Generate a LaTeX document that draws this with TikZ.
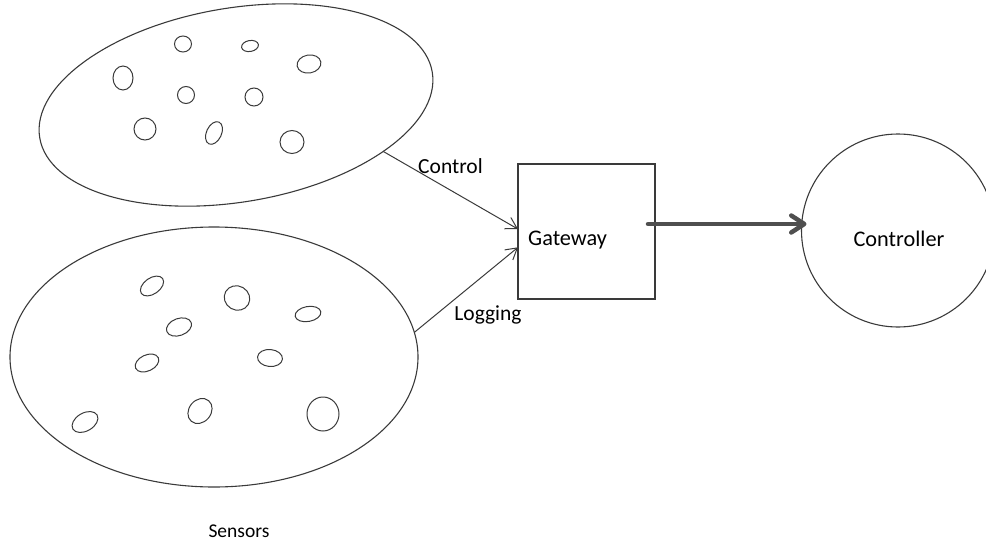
\documentclass[tikz,border=0pt]{standalone}
\usepackage{fontspec}
\setmainfont{Carlito}
\usetikzlibrary{shapes.geometric,arrows.meta,calc}

\definecolor{inkline}{HTML}{3A3A3A}
\definecolor{inkbold}{HTML}{4F4F4F}

\begin{document}
\begin{tikzpicture}[x=1pt,y=-1pt,
  outline/.style={draw=inkline, line width=1.1pt},
  cloud/.style={outline, ellipse, inner sep=0pt, outer sep=0pt},
  blob/.style={outline, ellipse, inner sep=0pt, outer sep=0pt, line width=1pt},
  lbl/.style={inner sep=0pt, anchor=base, font=\fontsize{21.5}{24}\selectfont},
  biglbl/.style={lbl, font=\fontsize{22.3}{25}\selectfont},
  feed/.style={draw=inkline, line width=1pt, -{Straight Barb[length=11pt,width=13pt]}},
  uplink/.style={draw=inkbold, line width=4.5pt, line cap=round,
    -{Straight Barb[length=13pt,width=17pt,round]}}]

\useasboundingbox (0,0) rectangle (986,541);

% sensor group sending control traffic
\node[cloud, minimum width=398pt, minimum height=194pt, rotate=9.5] (ctlset) at (236,105) {};
\node[blob, minimum width=17pt, minimum height=16pt] (t1) at (183,44) {};
\node[blob, minimum width=17pt, minimum height=11pt, rotate=10] (t2) at (250,46) {};
\node[blob, minimum width=24pt, minimum height=18pt, rotate=10] (t3) at (309,64) {};
\node[blob, minimum width=20pt, minimum height=24pt] (t4) at (123,78) {};
\node[blob, minimum width=17pt, minimum height=17pt] (t5) at (186,95) {};
\node[blob, minimum width=18pt, minimum height=18pt] (t6) at (254,97) {};
\node[blob, minimum width=22pt, minimum height=22pt] (t7) at (145,129) {};
\node[blob, minimum width=24pt, minimum height=15pt, rotate=65] (t8) at (214,133) {};
\node[blob, minimum width=24pt, minimum height=23pt] (t9) at (292,142) {};

% sensor group sending logging traffic
\node[cloud, minimum width=408pt, minimum height=260pt] (logset) at (214,357) {};
\node[blob, minimum width=26pt, minimum height=16pt, rotate=35] (b1) at (152,286) {};
\node[blob, minimum width=26pt, minimum height=24pt, rotate=-30] (b2) at (237,298) {};
\node[blob, minimum width=26pt, minimum height=15pt, rotate=10] (b3) at (308,314) {};
\node[blob, minimum width=26pt, minimum height=17pt, rotate=20] (b4) at (179,327) {};
\node[blob, minimum width=25pt, minimum height=16pt, rotate=25] (b5) at (147,363) {};
\node[blob, minimum width=25pt, minimum height=17pt, rotate=-5] (b6) at (270,358) {};
\node[blob, minimum width=27pt, minimum height=22pt, rotate=50] (b7) at (200,411) {};
\node[blob, minimum width=32pt, minimum height=34pt] (b8) at (323,414) {};
\node[blob, minimum width=28pt, minimum height=18pt, rotate=30] (b9) at (85,422) {};

\node[lbl] (sensors) at (239,537) {\fontsize{19.5}{22}\selectfont Sensors};

% gateway and controller
\node[outline, rectangle, minimum width=137pt, minimum height=135pt, inner sep=0pt, outer sep=0pt]
  (gw) at (586.5,231.5) {};
\node[biglbl, anchor=base west] (gwname) at (528,245) {Gateway};

\node[outline, circle, minimum size=193pt, inner sep=0pt, outer sep=0pt] (ctrl) at (898,230.5) {};
\node[biglbl] (ctrlname) at (899,246) {Controller};

% traffic into the gateway
\draw[feed] (ctlset.-27) -- (gw.178);
\draw[feed] (logset.7) -- (gw.193.5);
\node[lbl] (ctlname) at (450.5,173) {Control};
\node[lbl] (logname) at (488,320) {Logging};

% gateway uplink to the controller
\coordinate (gwout) at ($(gw.east)+(-7,-7.5)$);
\coordinate (ctrlin) at ($(ctrl.west)+(5,-6.5)$);
\draw[uplink] (gwout) -- (ctrlin);

\end{tikzpicture}
\end{document}
